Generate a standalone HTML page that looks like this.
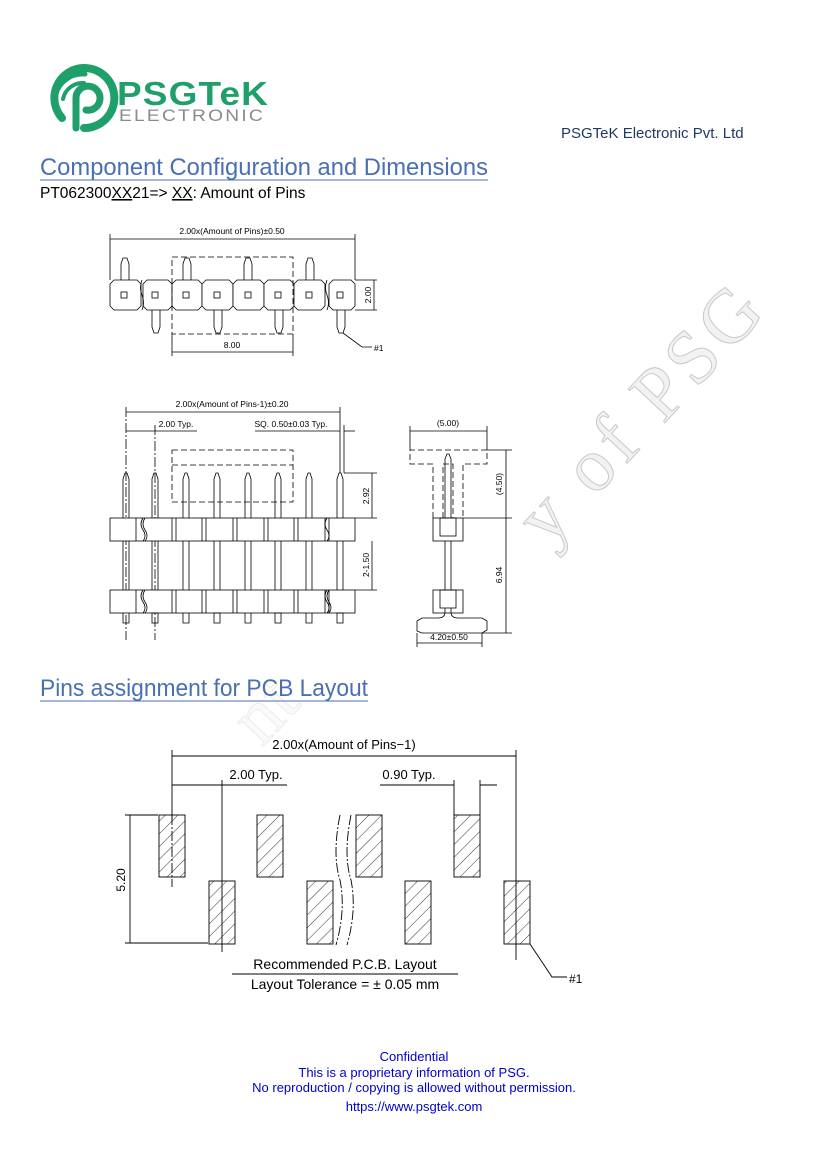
<!DOCTYPE html>
<html><head><meta charset="utf-8"><style>
html,body{margin:0;padding:0;background:#fff}
svg{display:block}
</style></head><body>
<svg width="827" height="1169" viewBox="0 0 827 1169" xmlns="http://www.w3.org/2000/svg" font-family="Liberation Sans, sans-serif">
<!-- watermark -->
<text x="0" y="0" transform="translate(548,548) rotate(-47)" font-family="Liberation Serif, serif" font-size="76" fill="#f2f2f2" stroke="#c9c9c9" stroke-width="1" textLength="320" lengthAdjust="spacing">y of PSG</text>
<text x="0" y="0" transform="translate(262,748) rotate(-47)" font-family="Liberation Serif, serif" font-size="76" fill="#fafafa" stroke="#ececec" stroke-width="1">nt</text>

<!-- logo -->
<g fill="none" stroke="#1fa06a" stroke-linecap="round">
<path d="M62 118 A30 30 0 1 1 84 128" stroke-width="8"/>
<path d="M76 128 L76 98 A12 12 0 1 1 86 110" stroke-width="7"/>
<path d="M55 98 A28 28 0 0 1 85 74" stroke-width="5"/>
<path d="M63 99 A20 20 0 0 1 84 83" stroke-width="4"/>
</g>
<text x="117" y="105" font-size="33" font-weight="bold" fill="#1fa06a" letter-spacing="1" textLength="152" lengthAdjust="spacingAndGlyphs">PSGTeK</text>
<text x="119" y="121" font-size="17" fill="#8a8a8a" letter-spacing="2" textLength="146" lengthAdjust="spacingAndGlyphs">ELECTRONIC</text>
<text x="561" y="138" font-size="15" fill="#1f3864">PSGTeK Electronic Pvt. Ltd</text>

<!-- headings -->
<text x="40" y="175" font-size="24.5" fill="#4a6fb5" font-weight="300" textLength="448" lengthAdjust="spacingAndGlyphs">Component Configuration and Dimensions</text>
<line x1="40" y1="180" x2="488" y2="180" stroke="#4a6fb5" stroke-width="1"/>
<text x="40" y="198" font-size="15.5" fill="#000">PT062300<tspan text-decoration="underline">XX</tspan>21=&gt; <tspan text-decoration="underline">XX</tspan>: Amount of Pins</text>

<text x="40" y="696" font-size="24.5" fill="#4a6fb5" font-weight="300" textLength="328" lengthAdjust="spacingAndGlyphs">Pins assignment for PCB Layout</text>
<line x1="40" y1="701" x2="368" y2="701" stroke="#4a6fb5" stroke-width="1"/>

<g stroke="#000" stroke-width="0.8" fill="none" font-size="8.5">
<!-- TOP VIEW -->
<line x1="110" y1="234" x2="110" y2="280"/><line x1="355" y1="234" x2="355" y2="280"/>
<line x1="110" y1="239" x2="355" y2="239"/>
<text x="232" y="234" text-anchor="middle" fill="#000" stroke="none">2.00x(Amount of Pins)±0.50</text>
<g fill="#fff">
<path d="M114 280 H137 L141 284 V306 L137 310 H114 L110 306 V284 Z"/>
<path d="M147 280 H168 L172 284 V306 L168 310 H147 L143 306 V284 Z"/>
<path d="M176 280 H198 L202 284 V306 L198 310 H176 L172 306 V284 Z"/>
<path d="M206 280 H229 L233 284 V306 L229 310 H206 L202 306 V284 Z"/>
<path d="M237 280 H260 L264 284 V306 L260 310 H237 L233 306 V284 Z"/>
<path d="M268 280 H290 L294 284 V306 L290 310 H268 L264 306 V284 Z"/>
<path d="M298 280 H321 L325 284 V306 L321 310 H298 L294 306 V284 Z"/>
<path d="M333 280 H351 L355 284 V306 L351 310 H333 L329 306 V284 Z"/>
</g>
<rect x="121" y="292" width="6" height="6"/><rect x="152" y="292" width="6" height="6"/><rect x="183" y="292" width="6" height="6"/><rect x="214" y="292" width="6" height="6"/><rect x="245" y="292" width="6" height="6"/><rect x="275" y="292" width="6" height="6"/><rect x="306" y="292" width="6" height="6"/><rect x="337" y="292" width="6" height="6"/>
<path d="M121 280 V264 L123 258 H127 L129 264 V280"/><path d="M183 280 V264 L185 258 H189 L191 264 V280"/><path d="M244 280 V264 L246 258 H250 L252 264 V280"/><path d="M306 280 V264 L308 258 H312 L314 264 V280"/>
<path d="M152 310 V327 L154 333 H158 L160 327 V310"/><path d="M214 310 V327 L216 333 H220 L222 327 V310"/><path d="M275 310 V327 L277 333 H281 L283 327 V310"/><path d="M337 310 V327 L339 333 H343 L345 327 V310"/>
<path d="M142 280 q-3 8 0 15 q3 8 0 15"/><path d="M327 280 q-3 8 0 15 q3 8 0 15"/>
<rect x="172" y="257" width="121" height="77" stroke-dasharray="6,3"/>
<line x1="172" y1="334" x2="172" y2="356"/><line x1="293" y1="334" x2="293" y2="356"/>
<line x1="172" y1="352" x2="293" y2="352"/>
<text x="232" y="348" text-anchor="middle" fill="#000" stroke="none">8.00</text>
<line x1="355" y1="280" x2="377" y2="280"/><line x1="355" y1="310" x2="377" y2="310"/><line x1="374" y1="280" x2="374" y2="310"/>
<text transform="translate(371,295) rotate(-90)" text-anchor="middle" fill="#000" stroke="none">2.00</text>
<path d="M343 333 L362 347 H372"/>
<text x="374" y="351" fill="#000" stroke="none">#1</text>

<!-- FRONT VIEW -->
<line x1="126" y1="407" x2="126" y2="640" stroke-dasharray="10,2,2,2"/><line x1="155" y1="425" x2="155" y2="640" stroke-dasharray="10,2,2,2"/>
<line x1="340" y1="407" x2="340" y2="473"/><line x1="344" y1="425" x2="344" y2="473"/>
<line x1="126" y1="412" x2="340" y2="412"/>
<text x="232" y="407" text-anchor="middle" fill="#000" stroke="none">2.00x(Amount of Pins-1)±0.20</text>
<line x1="126" y1="431" x2="155" y2="431"/><line x1="155" y1="431" x2="197" y2="431"/>
<text x="176" y="427" text-anchor="middle" fill="#000" stroke="none">2.00 Typ.</text>
<line x1="255" y1="431" x2="340" y2="431"/><line x1="344" y1="431" x2="355" y2="431"/>
<text x="291" y="427" text-anchor="middle" fill="#000" stroke="none">SQ. 0.50±0.03 Typ.</text>
<rect x="172" y="450" width="121" height="52" stroke-dasharray="6,3"/>
<line x1="172" y1="465" x2="293" y2="465" stroke-dasharray="6,3"/>
<g fill="#fff">
<rect x="110" y="518" width="245" height="23"/><rect x="110" y="590" width="245" height="23"/>
</g>
<g>
<path d="M123 518 V479 L125 473 H127 L129 479 V518 M123 541 V590 M129 541 V590 M123 613 V623 H129 V613"/>
<path d="M152 518 V479 L154 473 H156 L158 479 V518 M152 541 V590 M158 541 V590"/>
<path d="M183 518 V479 L185 473 H187 L189 479 V518 M183 541 V590 M189 541 V590 M183 613 V623 H189 V613"/>
<path d="M214 518 V479 L216 473 H218 L220 479 V518 M214 541 V590 M220 541 V590"/>
<path d="M245 518 V479 L247 473 H249 L251 479 V518 M245 541 V590 M251 541 V590 M245 613 V623 H251 V613"/>
<path d="M275 518 V479 L277 473 H279 L281 479 V518 M275 541 V590 M281 541 V590"/>
<path d="M306 518 V479 L308 473 H310 L312 479 V518 M306 541 V590 M312 541 V590 M306 613 V623 H312 V613"/>
<path d="M337 518 V479 L339 473 H341 L343 479 V518 M337 541 V590 M343 541 V590"/>
<rect x="152" y="613" width="6" height="10"/><rect x="214" y="613" width="6" height="10"/><rect x="275" y="613" width="6" height="10"/><rect x="337" y="613" width="6" height="10"/>
</g>
<path d="M136 518 V541 M176 518 V541 M172 518 V541 M202 518 V541 M206 518 V541 M233 518 V541 M237 518 V541 M264 518 V541 M268 518 V541 M294 518 V541 M298 518 V541 M325 518 V541 M329 518 V541"/>
<path d="M136 590 V613 M176 590 V613 M172 590 V613 M202 590 V613 M206 590 V613 M233 590 V613 M237 590 V613 M264 590 V613 M268 590 V613 M294 590 V613 M298 590 V613 M325 590 V613 M329 590 V613"/>
<path d="M143 518 q-4 6 0 12 q4 6 0 11 M145 518 q-4 6 0 12 q4 6 0 11 M143 590 q-4 6 0 12 q4 6 0 11 M145 590 q-4 6 0 12 q4 6 0 11" />
<path d="M327 518 q-4 6 0 12 q4 6 0 11 M329 590 q-4 6 0 12 q4 6 0 11 M327 590 q-4 6 0 12 q4 6 0 11"/>
<line x1="344" y1="473" x2="377" y2="473"/><line x1="355" y1="518" x2="377" y2="518"/><line x1="355" y1="590" x2="377" y2="590"/>
<line x1="372" y1="473" x2="372" y2="518"/><line x1="372" y1="541" x2="372" y2="590"/>
<text transform="translate(369,496) rotate(-90)" text-anchor="middle" fill="#000" stroke="none">2.92</text>
<text transform="translate(369,565) rotate(-90)" text-anchor="middle" fill="#000" stroke="none">2-1.50</text>

<!-- SIDE VIEW -->
<line x1="410" y1="426" x2="410" y2="450"/><line x1="487" y1="426" x2="487" y2="450"/>
<line x1="410" y1="431" x2="487" y2="431"/>
<text x="448" y="426" text-anchor="middle" fill="#000" stroke="none">(5.00)</text>
<path d="M433 518 V464 H410 V450 H487 V464 H463 V518" stroke-dasharray="6,3"/>
<path d="M443 518 V464 H453 V518" stroke-dasharray="6,3"/>
<path d="M445 518 V459 L447 454 H449 L451 459 V518 M445 541 V590 M451 541 V590"/>
<rect x="433" y="518" width="30" height="23"/><rect x="440" y="518" width="16" height="18"/>
<rect x="433" y="590" width="30" height="23"/><rect x="440" y="590" width="16" height="18"/>
<path d="M445 608 V612 Q445 618 438 618 H422 L417 621 V631 L422 633 H482 L487 630 V621 L482 618 H458 Q451 618 451 612 V608"/>
<line x1="487" y1="450" x2="512" y2="450"/><line x1="463" y1="518" x2="512" y2="518"/><line x1="482" y1="633" x2="512" y2="633"/>
<line x1="506" y1="450" x2="506" y2="633"/>
<text transform="translate(502,484) rotate(-90)" text-anchor="middle" fill="#000" stroke="none">(4.50)</text>
<text transform="translate(502,575) rotate(-90)" text-anchor="middle" fill="#000" stroke="none">6.94</text>
<line x1="417" y1="633" x2="417" y2="647"/><line x1="482" y1="633" x2="482" y2="647"/>
<line x1="417" y1="643" x2="482" y2="643"/>
<text x="449" y="640" text-anchor="middle" fill="#000" stroke="none">4.20±0.50</text>
</g>

<!-- PCB LAYOUT -->
<defs>
<pattern id="h" width="9" height="9" patternUnits="userSpaceOnUse" patternTransform="rotate(45)">
<line x1="0" y1="0" x2="0" y2="9" stroke="#000" stroke-width="0.8"/>
</pattern>
</defs>
<g stroke="#000" stroke-width="0.9" font-size="13">
<line x1="172" y1="750" x2="172" y2="822"/><line x1="516" y1="750" x2="516" y2="960"/>
<line x1="172" y1="756" x2="516" y2="756"/>
<text x="344" y="749" text-anchor="middle" fill="#000" stroke="none">2.00x(Amount of Pins−1)</text>
<line x1="222" y1="780" x2="222" y2="952"/>
<line x1="172" y1="785" x2="222" y2="785"/><line x1="222" y1="785" x2="287" y2="785"/>
<text x="256" y="779" text-anchor="middle" fill="#000" stroke="none">2.00 Typ.</text>
<line x1="380" y1="785" x2="454" y2="785"/><line x1="480" y1="785" x2="497" y2="785"/>
<line x1="454" y1="780" x2="454" y2="815"/><line x1="480" y1="780" x2="480" y2="815"/>
<text x="409" y="779" text-anchor="middle" fill="#000" stroke="none">0.90 Typ.</text>
<g fill="url(#h)">
<rect x="159" y="815" width="26" height="62"/><rect x="257" y="815" width="26" height="62"/><rect x="356" y="815" width="26" height="62"/><rect x="454" y="815" width="26" height="62"/>
<rect x="209" y="881" width="26" height="63"/><rect x="307" y="881" width="26" height="63"/><rect x="405" y="881" width="26" height="63"/><rect x="504" y="881" width="26" height="63"/>
</g>
<line x1="172" y1="815" x2="172" y2="887" stroke-dasharray="10,2,2,2"/>
<path d="M340 815 q-8 40 0 65 q6 30 -4 65 M351 815 q-8 40 0 65 q6 30 -4 65" fill="none" stroke-dasharray="10,2,2,2"/>
<line x1="125" y1="815" x2="158" y2="815"/><line x1="125" y1="943" x2="208" y2="943"/>
<line x1="130" y1="815" x2="130" y2="943"/>
<text transform="translate(125,880) rotate(-90)" text-anchor="middle" fill="#000" stroke="none" font-size="12">5.20</text>
<text x="345" y="969" text-anchor="middle" fill="#000" stroke="none" font-size="14">Recommended P.C.B. Layout</text>
<line x1="232" y1="974" x2="458" y2="974"/>
<text x="345" y="989" text-anchor="middle" fill="#000" stroke="none" font-size="14">Layout Tolerance = ± 0.05 mm</text>
<path d="M530 944 L552 977 H567" fill="none"/>
<text x="569" y="983" fill="#000" stroke="none" font-size="12">#1</text>
</g>

<!-- footer -->
<g fill="#0000cc" font-size="13" text-anchor="middle">
<text x="414" y="1061">Confidential</text>
<text x="414" y="1077">This is a proprietary information of PSG.</text>
<text x="414" y="1092">No reproduction / copying is allowed without permission.</text>
<text x="414" y="1111">https://www.psgtek.com</text>
</g>
</svg>
</body></html>
